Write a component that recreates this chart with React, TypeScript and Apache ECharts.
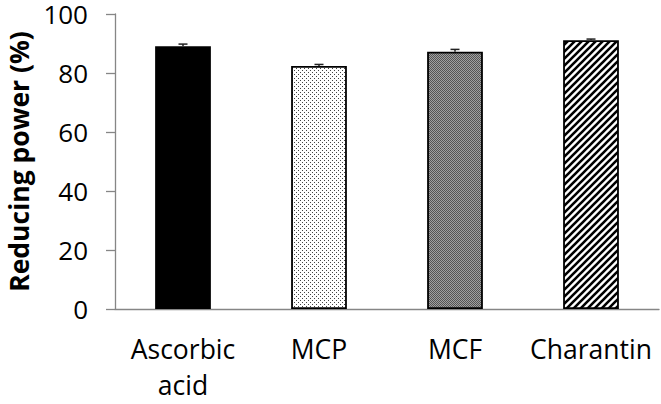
import React, { useEffect, useRef } from "react";
import * as echarts from "echarts";

const categories = ["Ascorbic\nacid", "MCP", "MCF", "Charantin"];
const values = [89.1, 82.4, 87.2, 91.1];
const errors = [0.7, 0.5, 0.8, 0.4];
const yTicks = { min: 0, max: 100, interval: 20 };

function makeDots(): HTMLCanvasElement {
  const c = document.createElement("canvas");
  c.width = 4; c.height = 4;
  const g = c.getContext("2d")!;
  g.fillStyle = "#fff"; g.fillRect(0, 0, 4, 4);
  g.fillStyle = "#444";
  g.fillRect(0, 0, 1, 1);
  g.fillRect(2, 2, 1, 1);
  return c;
}
function makeGray(): HTMLCanvasElement {
  const c = document.createElement("canvas");
  c.width = 2; c.height = 2;
  const g = c.getContext("2d")!;
  g.fillStyle = "#a0a0a0"; g.fillRect(0, 0, 2, 2);
  g.fillStyle = "#545454";
  g.fillRect(0, 0, 1, 1);
  g.fillRect(1, 1, 1, 1);
  return c;
}
function makeStripes(): HTMLCanvasElement {
  const s = 7;
  const c = document.createElement("canvas");
  c.width = s; c.height = s;
  const g = c.getContext("2d")!;
  g.fillStyle = "#fff"; g.fillRect(0, 0, s, s);
  g.strokeStyle = "#000"; g.lineWidth = 2.6;
  g.beginPath();
  for (let k = -1; k <= 1; k++) {
    g.moveTo(k * s - 1, s + 1);
    g.lineTo(k * s + s + 1, -1);
  }
  g.stroke();
  return c;
}

export default function App() {
  const ref = useRef<HTMLDivElement>(null);
  useEffect(() => {
    const chart = echarts.init(ref.current!, undefined, { renderer: "svg" });
    const fills: any[] = [
      "#000",
      { image: makeDots(), repeat: "repeat" },
      { image: makeGray(), repeat: "repeat" },
      { image: makeStripes(), repeat: "repeat" },
    ];
    const font = "'Open Sans', sans-serif";
    chart.setOption({
      animation: false,
      grid: { left: 115, right: 2, top: 14, bottom: 95, outerBoundsMode: "none", containLabel: false },
      xAxis: {
        type: "category",
        data: categories,
        axisLine: { lineStyle: { color: "#868686", width: 1.3 } },
        axisTick: { length: 10, lineStyle: { color: "#868686", width: 1.3 } },
        axisLabel: { interval: 0, fontSize: 26.5, color: "#000", fontFamily: font, lineHeight: 36, margin: 22 },
      },
      yAxis: {
        type: "value",
        ...yTicks,
        splitLine: { show: false },
        axisLine: { show: true, lineStyle: { color: "#868686", width: 1.3 } },
        axisTick: { show: true, length: 9, lineStyle: { color: "#868686", width: 1.3 } },
        axisLabel: { fontSize: 26, lineHeight: 26, color: "#000", fontFamily: font, margin: 27 },
        name: "Reducing power (%)",
        nameLocation: "middle",
        nameGap: 83,
        nameTextStyle: { fontSize: 26.5, lineHeight: 27, fontWeight: "bold", color: "#000", fontFamily: font },
      },
      series: [
        {
          type: "bar",
          barWidth: "41%",
          data: values.map((v, i) => ({
            value: v,
            itemStyle: { color: fills[i], borderColor: "#000", borderWidth: i === 0 ? 0 : 1.8 },
          })),
        },
        {
          type: "custom",
          z: 5,
          data: values.map((v, i) => [i, v, errors[i]]),
          renderItem: (params: any, api: any) => {
            const x = api.value(0);
            const y = api.value(1);
            const e = api.value(2);
            const top = api.coord([x, y + e]);
            const bot = api.coord([x, y]);
            const st = { stroke: "#222", lineWidth: 1.5 };
            return {
              type: "group",
              children: [
                { type: "line", shape: { x1: top[0], y1: top[1], x2: bot[0], y2: bot[1] }, style: st },
                { type: "line", shape: { x1: top[0] - 4.5, y1: top[1], x2: top[0] + 4.5, y2: top[1] }, style: st },
              ],
            };
          },
        },
      ],
    });
    return () => chart.dispose();
  }, []);
  return <div ref={ref} style={{ width: 661, height: 404, position: "absolute", left: 0, top: 0 }} />;
}
